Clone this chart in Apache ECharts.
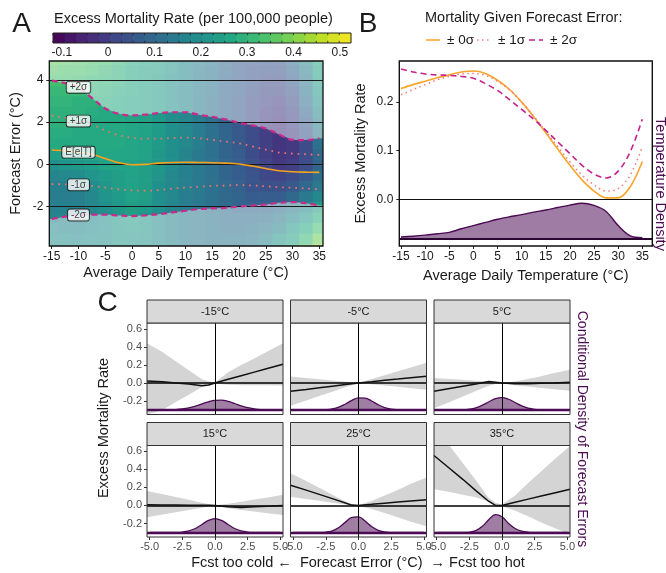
<!DOCTYPE html>
<html><head><meta charset="utf-8">
<script src="https://cdn.jsdelivr.net/npm/echarts@6/dist/echarts.min.js"></script>
<style>html,body{margin:0;padding:0;background:#fff}#c{width:666px;height:573px}</style>
</head><body><div id="c"></div>
<script>
// ---------------- DATA ----------------
// colour bar
const colorbarTicks = [-0.1, 0, 0.1, 0.2, 0.3, 0.4, 0.5];
const colorbarSteps = [-0.1066,-0.0819,-0.0572,-0.0325,-0.0078,0.0169,0.0416,0.0663,0.091,0.1157,0.1404,0.1651,0.1898,0.2145,0.2392,0.2639,0.2886,0.3133,0.338,0.3627,0.3874,0.4121,0.4368,0.4615,0.4862,0.5109];

// Panel A: excess mortality surface (rows = temperature, columns = forecast error)
const tempGrid = [-15,-12.5,-10,-7.5,-5,-2.5,0,2.5,5,7.5,10,12.5,15,17.5,20,22.5,25,27.5,30,32.5,35];
const errGrid = [-4,-3.5,-3,-2.5,-2,-1.5,-1,-0.5,0,0.5,1,1.5,2,2.5,3,3.5,4,4.5,5];
const mortalityGrid = [
 [0.22,0.20,0.19,0.17,0.16,0.15,0.15,0.17,0.20,0.24,0.27,0.28,0.29,0.29,0.30,0.31,0.33,0.35,0.37],
 [0.21,0.20,0.18,0.17,0.16,0.15,0.16,0.18,0.21,0.25,0.27,0.28,0.29,0.29,0.30,0.31,0.33,0.34,0.36],
 [0.20,0.19,0.18,0.17,0.16,0.16,0.17,0.19,0.22,0.25,0.27,0.27,0.28,0.29,0.29,0.31,0.32,0.34,0.35],
 [0.20,0.20,0.19,0.18,0.18,0.18,0.19,0.21,0.23,0.26,0.27,0.27,0.27,0.28,0.29,0.30,0.31,0.33,0.34],
 [0.21,0.20,0.20,0.20,0.20,0.21,0.22,0.23,0.25,0.26,0.27,0.27,0.27,0.27,0.28,0.29,0.30,0.31,0.33],
 [0.22,0.22,0.22,0.22,0.22,0.23,0.24,0.24,0.25,0.26,0.27,0.27,0.27,0.27,0.27,0.28,0.29,0.29,0.31],
 [0.22,0.22,0.23,0.24,0.24,0.25,0.25,0.25,0.25,0.26,0.26,0.26,0.26,0.26,0.26,0.27,0.27,0.27,0.28],
 [0.21,0.21,0.22,0.22,0.23,0.24,0.24,0.24,0.24,0.25,0.25,0.25,0.25,0.25,0.25,0.25,0.25,0.25,0.26],
 [0.19,0.19,0.19,0.19,0.20,0.20,0.20,0.21,0.22,0.22,0.23,0.23,0.23,0.23,0.23,0.23,0.23,0.24,0.24],
 [0.17,0.17,0.17,0.17,0.17,0.18,0.18,0.18,0.19,0.20,0.20,0.20,0.20,0.20,0.20,0.20,0.20,0.21,0.21],
 [0.16,0.15,0.15,0.15,0.15,0.15,0.16,0.16,0.16,0.17,0.18,0.18,0.18,0.18,0.18,0.18,0.18,0.18,0.18],
 [0.14,0.14,0.14,0.14,0.14,0.14,0.14,0.14,0.14,0.14,0.15,0.15,0.15,0.15,0.15,0.15,0.15,0.15,0.16],
 [0.14,0.13,0.13,0.13,0.12,0.12,0.12,0.12,0.12,0.12,0.12,0.12,0.12,0.12,0.12,0.13,0.13,0.13,0.13],
 [0.14,0.13,0.12,0.11,0.11,0.10,0.10,0.09,0.09,0.09,0.09,0.09,0.09,0.09,0.09,0.09,0.09,0.10,0.10],
 [0.14,0.13,0.12,0.11,0.09,0.09,0.08,0.07,0.07,0.07,0.06,0.06,0.06,0.06,0.06,0.07,0.07,0.07,0.07],
 [0.16,0.14,0.13,0.11,0.09,0.07,0.05,0.05,0.04,0.03,0.03,0.03,0.03,0.03,0.03,0.04,0.05,0.05,0.06],
 [0.20,0.17,0.14,0.12,0.09,0.07,0.04,0.02,0.01,0.00,0.00,0.00,0.00,0.00,0.01,0.02,0.03,0.04,0.05],
 [0.24,0.21,0.17,0.14,0.11,0.07,0.04,0.01,-0.01,-0.02,-0.02,-0.02,-0.02,-0.01,0.00,0.02,0.03,0.04,0.06],
 [0.29,0.25,0.22,0.18,0.14,0.10,0.06,0.03,0.00,-0.01,-0.01,0.00,0.01,0.02,0.03,0.05,0.07,0.09,0.11],
 [0.36,0.31,0.27,0.22,0.18,0.14,0.10,0.06,0.03,0.03,0.03,0.05,0.07,0.09,0.11,0.13,0.14,0.16,0.18],
 [0.43,0.38,0.33,0.28,0.23,0.18,0.14,0.11,0.09,0.10,0.12,0.14,0.16,0.18,0.20,0.22,0.24,0.25,0.27]
];
// Panel A: forecast-error quantile curves
const curveTemps = [-15,-12.5,-10,-7.5,-5,-2.5,0,2.5,5,7.5,10,12.5,15,17.5,20,22.5,25,27.5,30,32.5,35];
const plus2 = [3.97,3.85,3.65,3.15,2.65,2.4,2.32,2.36,2.43,2.47,2.47,2.35,2.25,2.13,1.97,1.85,1.7,1.42,1.16,1.15,1.24];
const plus1 = [2.31,2.2,2.05,1.9,1.6,1.38,1.26,1.22,1.22,1.25,1.27,1.24,1.16,1.08,1.0,0.85,0.7,0.56,0.51,0.48,0.45];
const meanErr = [0.68,0.65,0.58,0.48,0.28,0.08,-0.02,0.0,0.06,0.09,0.1,0.09,0.08,0.06,0.02,-0.08,-0.2,-0.3,-0.35,-0.37,-0.38];
const minus1 = [-0.93,-0.95,-0.97,-1.02,-1.1,-1.18,-1.23,-1.25,-1.22,-1.15,-1.1,-1.06,-1.02,-1.0,-0.98,-1.0,-1.04,-1.08,-1.11,-1.14,-1.18];
const minus2 = [-2.59,-2.48,-2.4,-2.38,-2.38,-2.42,-2.45,-2.42,-2.36,-2.28,-2.2,-2.12,-2.09,-2.06,-2.0,-1.95,-1.9,-1.82,-1.79,-1.84,-1.95];
const curveNames = ['+2σ','+1σ','E[e|T]','-1σ','-2σ'];
const aYTicks = [-2, 0, 2, 4];
const tempTicks = [-15,-10,-5,0,5,10,15,20,25,30,35];

// Panel B
const mortZero = [0.228,0.236,0.243,0.25,0.256,0.262,0.264,0.259,0.245,0.226,0.2,0.17,0.137,0.103,0.07,0.04,0.017,0.003,0.003,0.026,0.078];
const mortOne  = [0.215,0.226,0.236,0.246,0.253,0.258,0.259,0.255,0.243,0.225,0.2,0.171,0.14,0.108,0.077,0.05,0.03,0.017,0.022,0.05,0.108];
const mortTwo  = [0.268,0.262,0.258,0.256,0.255,0.253,0.249,0.238,0.224,0.205,0.185,0.165,0.142,0.118,0.094,0.07,0.052,0.044,0.058,0.098,0.165];
const tempDensity = [0.005,0.007,0.010,0.014,0.018,0.028,0.037,0.046,0.055,0.062,0.068,0.075,0.081,0.088,0.095,0.1,0.094,0.077,0.037,0.008,0.003];
const bYTicks = [0, 0.1, 0.2];
const legendNames = ['± 0σ','± 1σ','± 2σ'];

// Panel C
const facetLabels = ['-15°C','-5°C','5°C','15°C','25°C','35°C'];
const errC = [-5.2,-4,-3,-2,-1,-0.5,0,1,2,3,4,5.2];
const estC = [
 [0.022,0.012,0.0,-0.012,-0.03,-0.022,0,0.04,0.08,0.12,0.16,0.208],
 [-0.093,-0.072,-0.054,-0.036,-0.018,-0.009,0,0.014,0.029,0.043,0.058,0.075],
 [-0.093,-0.062,-0.036,-0.011,0.015,0.008,0,-0.008,-0.008,-0.004,0.0,0.007],
 [0.007,0.006,0.005,0.003,0.002,0.001,0,-0.015,-0.022,-0.015,-0.008,0.0],
 [0.225,0.17,0.123,0.076,0.028,0.004,0,0.012,0.025,0.037,0.049,0.064],
 [0.554,0.41,0.29,0.165,0.044,0.0,0.0,0.035,0.07,0.104,0.138,0.179]
];
const hiC = [
 [0.44,0.34,0.24,0.14,0.04,0.02,0.005,0.12,0.2,0.27,0.35,0.44],
 [0.071,0.055,0.041,0.027,0.014,0.007,0.002,0.043,0.086,0.129,0.172,0.224],
 [0.056,0.045,0.035,0.025,0.02,0.012,0.002,0.015,0.045,0.075,0.11,0.146],
 [0.16,0.124,0.093,0.062,0.031,0.016,0.003,0.02,0.042,0.065,0.088,0.118],
 [0.357,0.27,0.195,0.12,0.045,0.01,0.005,0.05,0.11,0.17,0.24,0.31],
 [0.9,0.66,0.47,0.28,0.08,0.03,0.01,0.11,0.25,0.38,0.51,0.66]
];
const loC = [
 [-0.4,-0.3,-0.21,-0.13,-0.045,-0.03,-0.005,-0.02,-0.025,-0.025,-0.026,-0.027],
 [-0.254,-0.195,-0.146,-0.098,-0.049,-0.024,-0.002,-0.014,-0.029,-0.043,-0.058,-0.075],
 [-0.28,-0.21,-0.15,-0.09,-0.03,-0.012,-0.002,-0.025,-0.04,-0.055,-0.07,-0.086],
 [-0.13,-0.1,-0.075,-0.05,-0.025,-0.012,-0.003,-0.03,-0.05,-0.068,-0.086,-0.107],
 [0.096,0.072,0.052,0.031,0.01,-0.005,-0.005,-0.04,-0.085,-0.13,-0.18,-0.232],
 [0.18,0.15,0.12,0.09,0.04,0.0,-0.01,-0.06,-0.12,-0.19,-0.25,-0.32]
];
const densErr = [-5,-4.5,-4,-3.5,-3,-2.5,-2,-1.5,-1,-0.5,0,0.5,1,1.5,2,2.5,3,3.5,4,4.5,5];
const densC = [
 [0,0,0.0004,0.0015,0.0044,0.011,0.023,0.042,0.067,0.091,0.107,0.109,0.095,0.072,0.047,0.026,0.013,0.005,0.002,0.0006,0],
 [0,0,0,0.0002,0.0008,0.0036,0.012,0.032,0.067,0.107,0.134,0.131,0.1,0.059,0.027,0.01,0.003,0.0006,0.0001,0,0],
 [0,0,0,0.0005,0.002,0.009,0.024,0.053,0.091,0.125,0.137,0.119,0.083,0.046,0.02,0.007,0.002,0.0005,0,0,0],
 [0,0,0,0,0.001,0.005,0.017,0.044,0.089,0.134,0.154,0.134,0.089,0.044,0.017,0.005,0.001,0,0,0,0],
 [0,0,0,0,0.0008,0.005,0.019,0.055,0.115,0.168,0.174,0.127,0.066,0.024,0.006,0.001,0,0,0,0,0],
 [0,0,0,0,0.0005,0.004,0.021,0.068,0.145,0.198,0.174,0.1,0.045,0.015,0.004,0.001,0,0,0,0,0]
];
const cXTicks = [-5, -2.5, 0, 2.5, 5];
const cYTicks = [-0.2, 0, 0.2, 0.4, 0.6];

// ---------------- STYLE / LAYOUT ----------------
const FONT = '"Liberation Sans", Arial, Helvetica, sans-serif';
const viridis = ['#440154','#482475','#414487','#355f8d','#2a788e','#21918c','#22a884','#44bf70','#7ad151','#bddf26','#fde725'];
const PURPLE = '#4b0b53';
const COL_ZERO = '#f9a52c', COL_ONE = '#f47f80', COL_TWO = '#c4238c';
const DASH_ONE = [1.5, 3.5], DASH_TWO = [6, 4];
const gCB = {left:53, top:33, width:298, height:10};
const gA = {left:49.3, top:61, width:273.7, height:185};
const gB = {left:399.3, top:61, width:253, height:185};
const cLefts = [147, 290.5, 434], cTops = [323, 445.5], cW = 136, cH = 91.5, stripH = 23;

const chart = echarts.init(document.getElementById('c'), null, {renderer:'canvas', width:666, height:573});

const grids = [gCB, gA, gB];
const xAxes = [], yAxes = [], series = [], graphics = [];
const noSplit = {show:false};
const hiddenLine = {show:false, onZero:false};

// colour bar axes
xAxes.push({gridIndex:0, type:'value', min:-0.119, max:0.524, axisLine:hiddenLine, axisTick:{show:false}, splitLine:noSplit,
  axisLabel:{customValues:colorbarTicks, fontSize:12, color:'#1a1a1a', margin:4, fontFamily:FONT,
    formatter:v => Math.abs(v) < 1e-9 ? '0' : v.toFixed(1)}});
yAxes.push({gridIndex:0, type:'value', min:0, max:1, show:false});
// A axes
xAxes.push({gridIndex:1, type:'value', min:-15.45, max:35.69, axisLine:hiddenLine, splitLine:noSplit,
  axisTick:{customValues:tempTicks, length:3, lineStyle:{color:'#222'}},
  axisLabel:{customValues:tempTicks, fontSize:12, color:'#1a1a1a', margin:5, fontFamily:FONT}});
yAxes.push({gridIndex:1, type:'value', min:-3.87, max:4.9, axisLine:hiddenLine, splitLine:noSplit,
  axisTick:{customValues:aYTicks, length:3, lineStyle:{color:'#222'}},
  axisLabel:{customValues:aYTicks, fontSize:12, color:'#1a1a1a', margin:6, fontFamily:FONT}});
// B axes
xAxes.push({gridIndex:2, type:'value', min:-15.35, max:37.07, axisLine:hiddenLine, splitLine:noSplit,
  axisTick:{customValues:tempTicks, length:3, lineStyle:{color:'#222'}},
  axisLabel:{customValues:tempTicks, fontSize:12, color:'#1a1a1a', margin:5, fontFamily:FONT}});
yAxes.push({gridIndex:2, type:'value', min:-0.096, max:0.2846, axisLine:hiddenLine, splitLine:noSplit,
  axisTick:{customValues:bYTicks, length:3, lineStyle:{color:'#222'}},
  axisLabel:{customValues:bYTicks, fontSize:12, color:'#1a1a1a', margin:6, fontFamily:FONT, formatter:v=>v.toFixed(1)}});
yAxes.push({gridIndex:2, type:'value', min:-0.0206, max:0.502, show:false, axisLine:hiddenLine});

// ---- colour bar series (0)
const cbHalf = (colorbarSteps[1] - colorbarSteps[0]) / 2;
series.push({type:'custom', xAxisIndex:0, yAxisIndex:0, silent:true,
  data: colorbarSteps.map(v => [v, 0.5, v]),
  renderItem: (params, api) => {
    const v = api.value(0), cs = params.coordSys;
    const a = api.coord([v - cbHalf, 0]), b = api.coord([v + cbHalf, 0]);
    return {type:'group', children:[
      {type:'rect', shape:{x:a[0], y:cs.y, width:b[0]-a[0]+0.6, height:cs.height}, style:{fill:api.visual('color')}},
      {type:'line', shape:{x1:a[0], y1:cs.y, x2:a[0], y2:cs.y+2.2}, style:{stroke:'#222', lineWidth:0.8}},
      {type:'line', shape:{x1:a[0], y1:cs.y+cs.height-2.2, x2:a[0], y2:cs.y+cs.height}, style:{stroke:'#222', lineWidth:0.8}}
    ]};
  }});

// ---- heatmap (1)
const heatData = [];
tempGrid.forEach((t, i) => errGrid.forEach((e, j) => heatData.push([t, e, mortalityGrid[i][j]])));
const halfT = (tempGrid[1] - tempGrid[0]) / 2, halfE = (errGrid[1] - errGrid[0]) / 2;
series.push({type:'custom', xAxisIndex:1, yAxisIndex:1, silent:true, clip:true, z:1,
  data: heatData,
  renderItem: (params, api) => {
    const t = api.value(0), e = api.value(1);
    const p1 = api.coord([t - halfT, e + halfE]), p2 = api.coord([t + halfT, e - halfE]);
    const cs = params.coordSys;
    const r = echarts.graphic.clipRectByRect({x:p1[0], y:p1[1], width:p2[0]-p1[0]+0.7, height:p2[1]-p1[1]+0.7},
      {x:cs.x, y:cs.y, width:cs.width, height:cs.height});
    if (!r) return;
    return {type:'rect', shape:r, style:{fill:api.visual('color')}};
  }});

// ---- fade outside ±2σ band (2) + reference lines
series.push({type:'custom', xAxisIndex:1, yAxisIndex:1, silent:true, clip:true, z:2,
  data:[[0,0]],
  renderItem: (params, api) => {
    const cs = params.coordSys;
    const rect = {x:cs.x, y:cs.y, width:cs.width, height:cs.height};
    const up = [], lo = [];
    up.push([cs.x - 2, api.coord([curveTemps[0], plus2[0]])[1]]);
    lo.push([cs.x - 2, api.coord([curveTemps[0], minus2[0]])[1]]);
    curveTemps.forEach((t, k) => { up.push(api.coord([t, plus2[k]])); lo.push(api.coord([t, minus2[k]])); });
    const n = curveTemps.length - 1;
    up.push([cs.x + cs.width + 2, api.coord([curveTemps[n], plus2[n]])[1]]);
    lo.push([cs.x + cs.width + 2, api.coord([curveTemps[n], minus2[n]])[1]]);
    up.push([cs.x + cs.width + 2, cs.y - 2], [cs.x - 2, cs.y - 2]);
    lo.push([cs.x + cs.width + 2, cs.y + cs.height + 2], [cs.x - 2, cs.y + cs.height + 2]);
    return {type:'group', children:[
      {type:'polygon', shape:{points:echarts.graphic.clipPointsByRect(up, rect)}, style:{fill:'rgba(255,255,255,0.45)'}},
      {type:'polygon', shape:{points:echarts.graphic.clipPointsByRect(lo, rect)}, style:{fill:'rgba(255,255,255,0.45)'}}
    ]};
  },
  markLine:{silent:true, symbol:['none','none'], label:{show:false}, animation:false,
    lineStyle:{color:'#1a1a1a', width:1.1, type:'solid'},
    data: aYTicks.map(v => ({yAxis:v}))}
});

// ---- A curves
function curveSeries(arr, color, width, type) {
  return {type:'line', xAxisIndex:1, yAxisIndex:1, z:6, silent:true, smooth:0.35, symbol:'none', showSymbol:false,
    data: curveTemps.map((t, k) => [t, arr[k]]),
    lineStyle:{color, width, type, cap:'butt'}};
}
const curveArrs = [plus2, plus1, meanErr, minus1, minus2];
series.push(curveSeries(plus2, '#cc2a8b', 2.2, [6, 4]));
series.push(curveSeries(minus2, '#cc2a8b', 2.2, [6, 4]));
series.push(curveSeries(plus1, '#f2736b', 1.8, [1.6, 5]));
series.push(curveSeries(minus1, '#f2736b', 1.8, [1.6, 5]));
series.push(curveSeries(meanErr, '#f6a21f', 1.6, 'solid'));
// curve labels (at the T=-10 point of each curve)
const labelIdx = 2;
series.push({type:'scatter', xAxisIndex:1, yAxisIndex:1, z:8, silent:true, symbolSize:0,
  data: curveArrs.map((arr, k) => ({value:[curveTemps[labelIdx], arr[labelIdx]], name:curveNames[k]})),
  label:{show:true, position:'inside', formatter:p => p.name, fontSize:10, color:'#111', fontFamily:FONT,
    backgroundColor:'#fff', borderColor:'#111', borderWidth:0.9, borderRadius:2, padding:[1,3,0,3]}});

// ---- B curves
function bSeries(name, arr, color, type) {
  return {name, type:'line', xAxisIndex:2, yAxisIndex:2, z:6, silent:true, smooth:0.35, symbol:'none', showSymbol:false,
    data: curveTemps.map((t, k) => [t, arr[k]]), itemStyle:{color},
    lineStyle:{color, width:1.6, type}};
}
const bZero = bSeries(legendNames[0], mortZero, COL_ZERO, 'solid');
bZero.markLine = {silent:true, symbol:['none','none'], label:{show:false}, animation:false,
  lineStyle:{color:'#111', width:1, type:'solid'}, data:[{yAxis:0}]};
series.push(bZero);
series.push(bSeries(legendNames[1], mortOne, COL_ONE, DASH_ONE));
series.push(bSeries(legendNames[2], mortTwo, COL_TWO, DASH_TWO));
series.push({type:'line', xAxisIndex:2, yAxisIndex:3, z:3, silent:true, smooth:0.35, symbol:'none',
  data: curveTemps.map((t, k) => [t, tempDensity[k]]),
  lineStyle:{color:PURPLE, width:1.4}, areaStyle:{color:'#9f7ca3', opacity:1},
  markLine:{silent:true, symbol:['none','none'], label:{show:false}, animation:false,
    lineStyle:{color:'#2c0632', width:2.2, type:'solid'}, data:[{yAxis:0}]}});

// ---- C facets
for (let i = 0; i < 6; i++) {
  const r = Math.floor(i / 3), c = i % 3;
  const gi = grids.length;
  grids.push({left:cLefts[c], top:cTops[r], width:cW, height:cH});
  const xi = xAxes.length;
  xAxes.push({gridIndex:gi, type:'value', min:-5.2, max:5.2, axisLine:hiddenLine, splitLine:noSplit,
    axisTick:{show:r === 1, customValues:cXTicks, length:3, lineStyle:{color:'#333'}},
    axisLabel:{show:r === 1, customValues:cXTicks, fontSize:11, color:'#4d4d4d', margin:4, fontFamily:FONT, formatter:v=>v.toFixed(1)}});
  const yi = yAxes.length;
  yAxes.push({gridIndex:gi, type:'value', min:-0.35, max:0.665, axisLine:hiddenLine, splitLine:noSplit,
    axisTick:{show:c === 0, customValues:cYTicks, length:3, lineStyle:{color:'#333'}},
    axisLabel:{show:c === 0, customValues:cYTicks, fontSize:11, color:'#4d4d4d', margin:5, fontFamily:FONT, formatter:v=>v.toFixed(1)}});
  yAxes.push({gridIndex:gi, type:'value', min:-0.05, max:0.965, show:false, axisLine:hiddenLine});
  const hi = hiC[i], lo = loC[i];
  series.push({type:'custom', xAxisIndex:xi, yAxisIndex:yi, silent:true, clip:true, z:1, data:[[0,0]],
    renderItem: (params, api) => {
      const cs = params.coordSys;
      const pts = [];
      errC.forEach((e, k) => pts.push(api.coord([e, hi[k]])));
      for (let k = errC.length - 1; k >= 0; k--) pts.push(api.coord([errC[k], lo[k]]));
      return {type:'polygon', shape:{points:echarts.graphic.clipPointsByRect(pts, {x:cs.x, y:cs.y, width:cs.width, height:cs.height})},
        style:{fill:'#d4d4d4'}};
    }});
  series.push({type:'line', xAxisIndex:xi, yAxisIndex:yi + 1, z:3, silent:true, smooth:0.4, symbol:'none',
    data: densErr.map((e, k) => [e, densC[i][k]]),
    lineStyle:{color:PURPLE, width:1.3}, areaStyle:{color:'#a07ea4', opacity:1},
    markLine:{silent:true, symbol:['none','none'], label:{show:false}, animation:false,
      lineStyle:{color:PURPLE, width:2.4, type:'solid'}, data:[{yAxis:0}]}});
  series.push({type:'line', xAxisIndex:xi, yAxisIndex:yi, z:6, silent:true, symbol:'none',
    data: errC.map((e, k) => [e, estC[i][k]]),
    lineStyle:{color:'#111', width:1.5},
    markLine:{silent:true, symbol:['none','none'], label:{show:false}, animation:false,
      lineStyle:{color:'#000', type:'solid'},
      data:[{yAxis:0, lineStyle:{width:1.6}}, {xAxis:0, lineStyle:{width:1}}]}});
  // panel border + strip
  graphics.push({type:'rect', z:100, silent:true, shape:{x:cLefts[c], y:cTops[r], width:cW, height:cH},
    style:{fill:null, stroke:'#333', lineWidth:1}});
  graphics.push({type:'rect', z:100, silent:true, shape:{x:cLefts[c], y:cTops[r] - stripH, width:cW, height:stripH},
    style:{fill:'#d9d9d9', stroke:'#333', lineWidth:1}});
  graphics.push({type:'text', z:101, silent:true, x:cLefts[c] + cW / 2, y:cTops[r] - stripH / 2,
    style:{text:facetLabels[i], fontSize:11, fontFamily:FONT, fill:'#1a1a1a', align:'center', verticalAlign:'middle'}});
}

// ---- frames and texts
function frame(g, w, color) {
  graphics.push({type:'rect', z:100, silent:true, shape:{x:g.left, y:g.top, width:g.width, height:g.height},
    style:{fill:null, stroke:color, lineWidth:w}});
}
frame(gCB, 1, '#222');
frame(gA, 1.3, '#111');
frame(gB, 1.4, '#111');
function txt(text, x, y, size, opts) {
  graphics.push(Object.assign({type:'text', z:101, silent:true, x, y,
    style:Object.assign({text, fontSize:size, fontFamily:FONT, fill:'#1a1a1a', align:'center', verticalAlign:'middle'}, (opts && opts.style) || {})},
    (opts && opts.el) || {}));
}
txt('A', 21.5, 24, 28);
txt('B', 368, 24, 28);
txt('C', 107.5, 303, 28);
txt('Excess Mortality Rate (per 100,000 people)', 54, 19, 14.5, {style:{align:'left'}});
txt('Average Daily Temperature (°C)', 186, 273, 14.5);
txt('Forecast Error (°C)', 16, 153.5, 14.5, {el:{rotation:Math.PI / 2}});
txt('Mortality Given Forecast Error:', 425, 18, 14.5, {style:{align:'left'}});
txt('Excess Mortality Rate', 361, 153.5, 14.5, {el:{rotation:Math.PI / 2}});
txt('Average Daily Temperature (°C)', 525.8, 276, 14.5);
txt('Temperature Density', 660, 184, 14.5, {el:{rotation:-Math.PI / 2}, style:{fill:PURPLE}});
txt('Excess Mortality Rate', 104, 428, 14.5, {el:{rotation:Math.PI / 2}});
txt('Conditional Density of Forecast Errors', 582, 429, 14, {el:{rotation:-Math.PI / 2}, style:{fill:PURPLE}});
txt('Fcst too cold \u2190  Forecast Error (°C)  \u2192 Fcst too hot', 358, 563, 14.5);

// ---- legend for panel B (key glyphs + labels)
const legendX = [426, 477, 529], legendY = 40;
const legendCols = [COL_ZERO, COL_ONE, COL_TWO], legendDash = [null, DASH_ONE, DASH_TWO];
legendNames.forEach((nm, k) => {
  graphics.push({type:'line', z:101, silent:true, shape:{x1:legendX[k], y1:legendY, x2:legendX[k] + 14, y2:legendY},
    style:{stroke:legendCols[k], lineWidth:1.6, lineDash:legendDash[k]}});
  txt(nm, legendX[k] + 21, legendY, 13.5, {style:{align:'left'}});
});

chart.setOption({
  animation:false,
  textStyle:{fontFamily:FONT},
  grid: grids.map(g => Object.assign({containLabel:false}, g)),
  xAxis: xAxes,
  yAxis: yAxes,
  visualMap: {type:'continuous', show:false, min:-0.119, max:0.524, dimension:2, seriesIndex:[0, 1], inRange:{color:viridis}},
  series: series,
  graphic: graphics
});
</script></body></html>
